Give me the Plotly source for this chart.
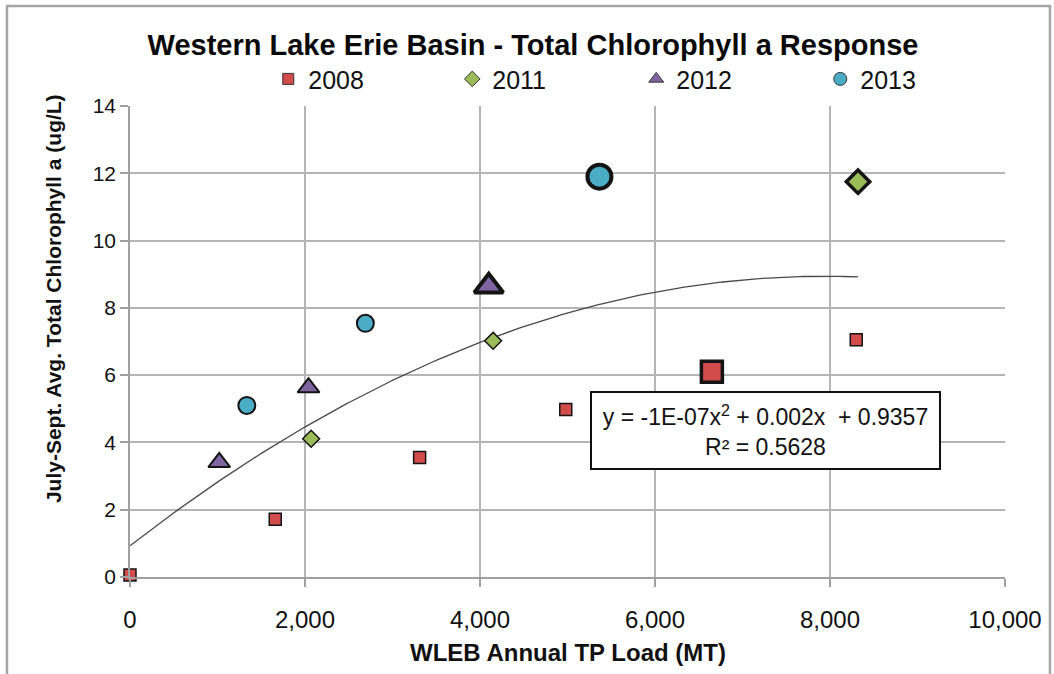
import numpy as np
import plotly.graph_objects as go

# ---------------- data ----------------
load_2008 = [0, 1660, 3310, 4980, 6650, 8300]
chl_2008 = [0.06, 1.72, 3.55, 4.98, 6.10, 7.05]
obs_2008 = [0, 0, 0, 0, 1, 0]

load_2011 = [2070, 4150, 8320]
chl_2011 = [4.11, 7.02, 11.75]
obs_2011 = [0, 0, 1]

load_2012 = [1020, 2040, 4100]
chl_2012 = [3.41, 5.63, 8.64]
obs_2012 = [0, 0, 1]

load_2013 = [1335, 2690, 5365]
chl_2013 = [5.10, 7.54, 11.90]
obs_2013 = [0, 0, 1]

series_names = ["2008", "2011", "2012", "2013"]
x_ticks = [0, 2000, 4000, 6000, 8000, 10000]
y_ticks = [0, 2, 4, 6, 8, 10, 12, 14]

title_text = "Western Lake Erie Basin - Total Chlorophyll a Response"
x_title = "WLEB Annual TP Load (MT)"
y_title = "July-Sept. Avg. Total Chlorophyll a (ug/L)"
eq_line1 = "y = -1E-07x<sup>2</sup> + 0.002x  + 0.9357"
eq_line2 = "R² = 0.5628"

# ---------------- styling ----------------
FONT = "Liberation Sans, Arial, sans-serif"
EDGE = "#141414"

styles = {
    "2008": dict(symbol="square", color="#d24c4c", s=12, S=21, w=1.5, W=3.5, leg=11),
    "2011": dict(symbol="diamond", color="#9bbb59", s=13, S=18, w=1.5, W=3.5, leg=12),
    "2012": dict(symbol="triangle-up", color="#8064a2", s=19, S=25, w=2, W=4, leg=13),
    "2013": dict(symbol="circle", color="#4bacc6", s=17, S=24, w=2, W=4, leg=13),
}
data = {
    "2008": (load_2008, chl_2008, obs_2008),
    "2011": (load_2011, chl_2011, obs_2011),
    "2012": (load_2012, chl_2012, obs_2012),
    "2013": (load_2013, chl_2013, obs_2013),
}

fig = go.Figure()

# quadratic trendline fitted through all points
all_x = np.array(load_2008 + load_2011 + load_2012 + load_2013, dtype=float)
all_y = np.array(chl_2008 + chl_2011 + chl_2012 + chl_2013, dtype=float)
coef = np.polyfit(all_x, all_y, 2)
tx = np.linspace(0, all_x.max(), 200)
fig.add_trace(go.Scatter(x=tx, y=np.polyval(coef, tx), mode="lines",
                         line=dict(color="#4a4a4a", width=1.3),
                         showlegend=False, hoverinfo="skip"))

for name in series_names:
    xs, ys, obs = data[name]
    st = styles[name]
    sizes = [st["S"] if o else st["s"] for o in obs]
    widths = [st["W"] if o else st["w"] for o in obs]
    fig.add_trace(go.Scatter(
        x=xs, y=ys, mode="markers", name=name, showlegend=False,
        marker=dict(symbol=st["symbol"], color=st["color"], size=sizes,
                    opacity=1, line=dict(color=EDGE, width=widths)),
        cliponaxis=False))
    # legend entry
    fig.add_trace(go.Scatter(
        x=[None], y=[None], mode="markers", name=name, showlegend=True,
        marker=dict(symbol=st["symbol"], color=st["color"], size=st["leg"],
                    opacity=1, line=dict(color="#333333", width=1))))

fig.add_annotation(x=7265, y=4.34, xref="x", yref="y",
                   text=eq_line1 + "<br>" + eq_line2, showarrow=False,
                   font=dict(family=FONT, size=23, color="#111111"),
                   align="center", bgcolor="white", bordercolor="#111111",
                   borderwidth=2, width=343, height=71, borderpad=2)

# axis titles as annotations
fig.add_annotation(x=0.5, y=-0.161, xref="paper", yref="paper",
                   text="<b>" + x_title + "</b>", showarrow=False,
                   font=dict(family=FONT, size=24, color="#111111"),
                   xanchor="center", yanchor="middle")
fig.add_annotation(x=-0.088, y=0.59, xref="paper", yref="paper",
                   text="<b>" + y_title + "</b>", showarrow=False, textangle=-90,
                   font=dict(family=FONT, size=21, color="#111111"),
                   xanchor="center", yanchor="middle")

# outer frame
fig.add_shape(type="rect", xref="paper", yref="paper",
              x0=-0.1406, x1=1.0514, y0=-0.35, y1=1.2123,
              line=dict(color="#a6a6a6", width=2.5), layer="below")

fig.update_layout(
    width=1054, height=674,
    margin=dict(l=130, r=49, t=106, b=97),
    paper_bgcolor="white", plot_bgcolor="white",
    title=dict(text="<b>" + title_text + "</b>", x=533 / 1054, xanchor="center",
               y=1 - 45 / 674, yanchor="middle", yref="container",
               font=dict(family=FONT, size=29, color="#0a0a0a")),
    legend=dict(orientation="h", x=0.158, xanchor="left", y=1.057,
                yanchor="middle", font=dict(family=FONT, size=25, color="#111111"),
                entrywidth=139, entrywidthmode="pixels",
                bgcolor="rgba(0,0,0,0)", traceorder="normal"),
    xaxis=dict(range=[0, 10000], tickvals=x_ticks, tickformat=",d",
               showgrid=True, gridcolor="#b5b5b5", gridwidth=1.5,
               showline=True, linecolor="#a0a0a0", linewidth=1.5,
               ticks="outside", ticklen=8, tickcolor="#a0a0a0", tickwidth=1.5,
               zeroline=False, ticklabelstandoff=12,
               tickfont=dict(family=FONT, size=24, color="#111111")),
    yaxis=dict(range=[0, 14], tickvals=y_ticks,
               showgrid=True, gridcolor="#b5b5b5", gridwidth=1.5,
               showline=True, linecolor="#a0a0a0", linewidth=1.5,
               ticks="outside", ticklen=8, tickcolor="#a0a0a0", tickwidth=1.5,
               zeroline=False,
               tickfont=dict(family=FONT, size=21, color="#111111")),
)

fig.write_html("out.html", config={"displayModeBar": False},
               post_script="document.body.style.margin='0px';")
